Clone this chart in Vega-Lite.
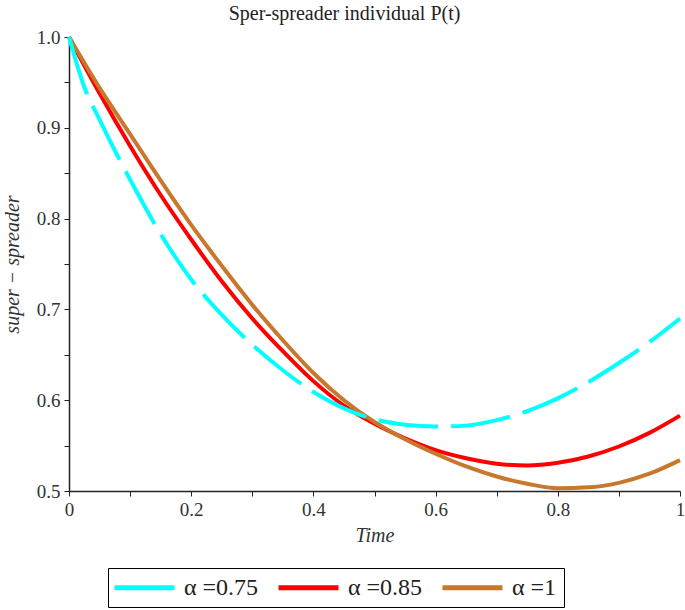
{
  "$schema": "https://vega.github.io/schema/vega-lite/v6.json",
  "width": 611,
  "height": 454,
  "autosize": {"type": "none"},
  "padding": {"left": 69, "top": 37, "right": 5, "bottom": 119},
  "background": "white",
  "title": {
    "text": "Sper-spreader individual P(t)",
    "font": "Liberation Serif",
    "fontSize": 20,
    "fontWeight": "normal",
    "color": "#222222",
    "anchor": "middle",
    "dx": -30,
    "offset": 4
  },
  "config": {
    "view": {"stroke": null},
    "font": "Liberation Serif"
  },
  "data": {
    "values": [
      {"t": 0, "v": 1.0, "s": "α =0.75"},
      {"t": 0.025, "v": 0.945, "s": "α =0.75"},
      {"t": 0.05, "v": 0.909, "s": "α =0.75"},
      {"t": 0.075, "v": 0.875, "s": "α =0.75"},
      {"t": 0.1, "v": 0.843, "s": "α =0.75"},
      {"t": 0.15, "v": 0.783, "s": "α =0.75"},
      {"t": 0.2, "v": 0.733, "s": "α =0.75"},
      {"t": 0.25, "v": 0.694, "s": "α =0.75"},
      {"t": 0.3, "v": 0.661, "s": "α =0.75"},
      {"t": 0.35, "v": 0.633, "s": "α =0.75"},
      {"t": 0.4, "v": 0.609, "s": "α =0.75"},
      {"t": 0.45, "v": 0.591, "s": "α =0.75"},
      {"t": 0.5, "v": 0.579, "s": "α =0.75"},
      {"t": 0.55, "v": 0.573, "s": "α =0.75"},
      {"t": 0.6, "v": 0.571, "s": "α =0.75"},
      {"t": 0.65, "v": 0.572, "s": "α =0.75"},
      {"t": 0.7, "v": 0.578, "s": "α =0.75"},
      {"t": 0.75, "v": 0.588, "s": "α =0.75"},
      {"t": 0.8, "v": 0.602, "s": "α =0.75"},
      {"t": 0.85, "v": 0.620, "s": "α =0.75"},
      {"t": 0.9, "v": 0.641, "s": "α =0.75"},
      {"t": 0.95, "v": 0.664, "s": "α =0.75"},
      {"t": 1.0, "v": 0.690, "s": "α =0.75"},
      {"t": 0, "v": 1.0, "s": "α =0.85"},
      {"t": 0.05, "v": 0.938, "s": "α =0.85"},
      {"t": 0.1, "v": 0.880, "s": "α =0.85"},
      {"t": 0.15, "v": 0.826, "s": "α =0.85"},
      {"t": 0.2, "v": 0.777, "s": "α =0.85"},
      {"t": 0.25, "v": 0.731, "s": "α =0.85"},
      {"t": 0.3, "v": 0.690, "s": "α =0.85"},
      {"t": 0.35, "v": 0.654, "s": "α =0.85"},
      {"t": 0.4, "v": 0.621, "s": "α =0.85"},
      {"t": 0.45, "v": 0.594, "s": "α =0.85"},
      {"t": 0.5, "v": 0.574, "s": "α =0.85"},
      {"t": 0.55, "v": 0.558, "s": "α =0.85"},
      {"t": 0.6, "v": 0.545, "s": "α =0.85"},
      {"t": 0.65, "v": 0.536, "s": "α =0.85"},
      {"t": 0.7, "v": 0.530, "s": "α =0.85"},
      {"t": 0.75, "v": 0.528, "s": "α =0.85"},
      {"t": 0.8, "v": 0.531, "s": "α =0.85"},
      {"t": 0.85, "v": 0.538, "s": "α =0.85"},
      {"t": 0.9, "v": 0.549, "s": "α =0.85"},
      {"t": 0.95, "v": 0.564, "s": "α =0.85"},
      {"t": 1.0, "v": 0.583, "s": "α =0.85"},
      {"t": 0, "v": 1.0, "s": "α =1"},
      {"t": 0.05, "v": 0.944, "s": "α =1"},
      {"t": 0.1, "v": 0.893, "s": "α =1"},
      {"t": 0.15, "v": 0.842, "s": "α =1"},
      {"t": 0.2, "v": 0.793, "s": "α =1"},
      {"t": 0.25, "v": 0.748, "s": "α =1"},
      {"t": 0.3, "v": 0.705, "s": "α =1"},
      {"t": 0.35, "v": 0.666, "s": "α =1"},
      {"t": 0.4, "v": 0.630, "s": "α =1"},
      {"t": 0.45, "v": 0.600, "s": "α =1"},
      {"t": 0.5, "v": 0.576, "s": "α =1"},
      {"t": 0.55, "v": 0.557, "s": "α =1"},
      {"t": 0.6, "v": 0.541, "s": "α =1"},
      {"t": 0.65, "v": 0.527, "s": "α =1"},
      {"t": 0.7, "v": 0.516, "s": "α =1"},
      {"t": 0.75, "v": 0.508, "s": "α =1"},
      {"t": 0.8, "v": 0.503, "s": "α =1"},
      {"t": 0.85, "v": 0.504, "s": "α =1"},
      {"t": 0.9, "v": 0.509, "s": "α =1"},
      {"t": 0.95, "v": 0.519, "s": "α =1"},
      {"t": 1.0, "v": 0.534, "s": "α =1"}
    ]
  },
  "encoding": {
    "x": {
      "field": "t",
      "type": "quantitative",
      "scale": {"domain": [0, 1], "nice": false},
      "axis": {
        "title": "Time",
        "titleFont": "Liberation Serif",
        "titleFontStyle": "italic",
        "titleFontWeight": "normal",
        "titleFontSize": 20,
        "titleColor": "#333333",
        "titlePadding": 6,
        "values": [0, 0.1, 0.2, 0.3, 0.4, 0.5, 0.6, 0.7, 0.8, 0.9, 1],
        "labelExpr": "(round(datum.value*10) % 2 == 0) ? format(datum.value, '~g') : ''",
        "labelFont": "Liberation Serif",
        "labelFontSize": 19,
        "labelColor": "#333333",
        "labelPadding": 4,
        "labelOverlap": false,
        "labelFlush": false,
        "tickSize": 5,
        "tickColor": "#222222",
        "domainColor": "#222222",
        "domainWidth": 1.5,
        "grid": false
      }
    },
    "y": {
      "field": "v",
      "type": "quantitative",
      "scale": {"domain": [0.5, 1.0], "nice": false, "zero": false},
      "axis": {
        "title": "super − spreader",
        "titleFont": "Liberation Serif",
        "titleFontStyle": "italic",
        "titleFontWeight": "normal",
        "titleFontSize": 20,
        "titleColor": "#333333",
        "titlePadding": 14,
        "values": [0.5, 0.55, 0.6, 0.65, 0.7, 0.75, 0.8, 0.85, 0.9, 0.95, 1.0],
        "labelExpr": "(round(datum.value*20) % 2 == 0) ? format(datum.value, '.1f') : ''",
        "labelFont": "Liberation Serif",
        "labelFontSize": 19,
        "labelColor": "#333333",
        "labelPadding": 4,
        "labelOverlap": false,
        "labelFlush": false,
        "tickSize": 5,
        "tickColor": "#222222",
        "domainColor": "#222222",
        "domainWidth": 1.5,
        "grid": false
      }
    },
    "color": {
      "field": "s",
      "type": "nominal",
      "scale": {"domain": ["α =0.75", "α =0.85", "α =1"], "range": ["#00FFFF", "#FF0000", "#C8782D"]},
      "legend": {
        "title": null,
        "orient": "none",
        "legendX": 39,
        "legendY": 531,
        "direction": "horizontal",
        "columns": 3,
        "symbolType": "M-3,0H3",
        "symbolSize": 400,
        "symbolStrokeWidth": 5,
        "symbolOffset": 17,
        "symbolDash": [1, 0],
        "labelFont": "Liberation Serif",
        "labelFontSize": 24,
        "labelColor": "#222222",
        "labelOffset": 27,
        "columnPadding": 9,
        "strokeColor": "#000000",
        "padding": 7
      }
    }
  },
  "layer": [
    {
      "transform": [{"filter": "datum.s != 'α =0.75'"}],
      "mark": {"type": "line", "strokeWidth": 4, "interpolate": "monotone", "clip": false}
    },
    {
      "transform": [{"filter": "datum.s == 'α =0.75'"}],
      "mark": {"type": "line", "strokeWidth": 4, "interpolate": "monotone", "clip": false, "strokeDash": [60, 13]}
    }
  ]
}
